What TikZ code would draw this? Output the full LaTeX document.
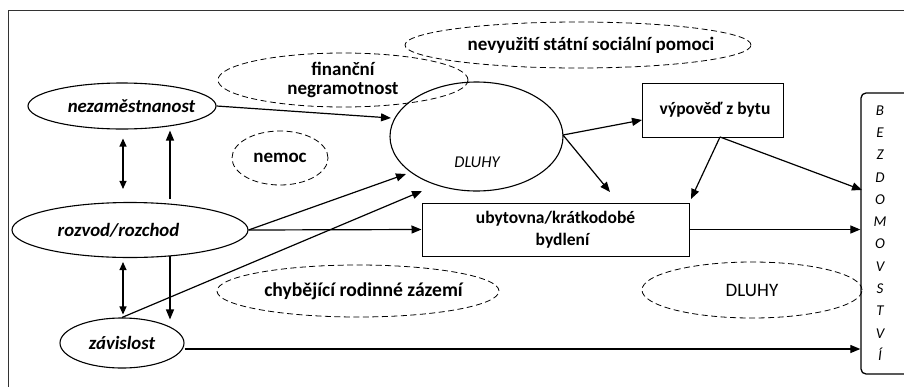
\documentclass[tikz,border=0pt]{standalone}
\usepackage{fontspec}
\setmainfont{Carlito}
\usetikzlibrary{shapes.geometric,arrows.meta,calc}
\begin{document}
\begin{tikzpicture}[x=1pt,y=-1pt,
  txt/.style={font=\fontsize{19}{19}\selectfont\bfseries},
  itx/.style={font=\fontsize{18.8}{19}\selectfont\bfseries\itshape},
  oval/.style={ellipse, draw, line width=1.1pt, inner sep=0pt, align=center},
  doval/.style={ellipse, draw, line width=0.8pt, dash pattern=on 6pt off 3.5pt, inner sep=0pt, align=center},
  box/.style={rectangle, draw, line width=1pt, inner sep=0pt, align=center},
  arr/.style={-{Triangle[length=10pt,width=8pt]}, line width=1.2pt},
  darr/.style={{Triangle[length=8pt,width=7pt]}-{Triangle[length=8pt,width=7pt]}, line width=1.2pt},
]
\useasboundingbox (0,0) rectangle (904,386);
\draw[line width=0.9pt, black!80] (8,400) -- (8,10) -- (920,10);

% nodes
\node[oval, minimum width=188pt, minimum height=46pt,
  label={[name=nezt, itx, xshift=9.5pt]center:nezaměstnanost}] (nez) at (122,106) {};
\node[doval, minimum width=250pt, minimum height=54pt, txt] (fin) at (343,80) {finanční\\negramotnost};
\node[doval, minimum width=346pt, minimum height=46pt,
  label={[name=nevt, txt, xshift=13pt]center:nevyužití státní sociální pomoci}] (nev) at (578,45) {};
\node[oval, minimum width=173pt, minimum height=109pt] (dl) at (476.5,136.5) {};
\node[font=\fontsize{16.5}{16}\selectfont\itshape] (dltxt) at (477,162) {DLUHY};
\node[doval, minimum width=96pt, minimum height=54pt, txt] (nem) at (280,158) {nemoc};
\node[box, minimum width=141pt, minimum height=54pt, font=\fontsize{17.5}{19}\selectfont\bfseries] (vyp) at (712.5,110) {\hspace*{5pt}výpověď z bytu};
\node[rectangle, draw, line width=1.3pt, rounded corners=5pt, minimum width=64pt, minimum height=281pt] (bez) at (893,233.5) {};
\node[font=\fontsize{15}{22.3}\selectfont\itshape, align=center, inner sep=0pt] (beztxt) at (880,233) {B\\E\\Z\\D\\O\\M\\O\\V\\S\\T\\V\\Í};
\node[oval, minimum width=236pt, minimum height=55pt,
  label={[name=rozt, itx, xshift=-11.5pt]center:rozvod/rozchod}] (roz) at (130,230) {};
\node[box, minimum width=267pt, minimum height=53pt, font=\fontsize{17.5}{22}\selectfont\bfseries] (uby) at (555.5,229.5) {ubytovna/krátkodobé\\\hspace*{14pt}bydlení};
\node[doval, minimum width=282pt, minimum height=52pt,
  label={[name=chyt, font=\fontsize{19.6}{19}\selectfont\bfseries, xshift=5.5pt]center:chybějící rodinné zázemí}] (chy) at (358,291) {};
\node[doval, minimum width=220pt, minimum height=56pt, font=\fontsize{19}{19}\selectfont] (dl2) at (752,290) {DLUHY};
\node[oval, minimum width=124pt, minimum height=50pt, itx] (zav) at (122,343) {závislost};

% free ends
\coordinate (e1) at (391,118);
\coordinate (e2) at (406,174);
\coordinate (e3) at (422,191);
\coordinate (e4) at (642,120);
\coordinate (e5) at (610,192);
\coordinate (s6) at (720,137);
\coordinate (e6) at (691,199);
\coordinate (e7) at (862,190);
\coordinate (s8) at (563,135);

% connectors
\draw[arr] (nez.east) -- (e1);
\draw[arr] (roz.east) -- (e2);
\draw[arr] (zav.north) -- (e3);
\draw[arr] (roz.east) -- (uby.west);
\draw[arr] (s8) -- (e4);
\draw[arr] (s8) -- (e5);
\draw[arr] (s6) -- (e6);
\draw[arr] (s6) -- (e7);
\draw[arr] (uby.east) -- (uby.east -| bez.west);
\draw[arr] ([yshift=-6pt]zav.east) -- ([yshift=-6pt]zav.east -| bez.west);

\draw[darr] ([shift={(1pt,-9pt)}]nez.south) -- ([shift={(-7pt,13pt)}]roz.north);
\draw[darr] ([shift={(-7pt,-4pt)}]roz.south) -- ([shift={(1pt,3pt)}]zav.north);
\draw[arr] ([shift={(40pt,3pt)}]roz.north) -- ([shift={(48pt,-1pt)}]nez.south);
\draw[arr] ([shift={(40pt,2pt)}]roz.south) -- ([shift={(48pt,-2pt)}]zav.north);
\end{tikzpicture}
\end{document}
